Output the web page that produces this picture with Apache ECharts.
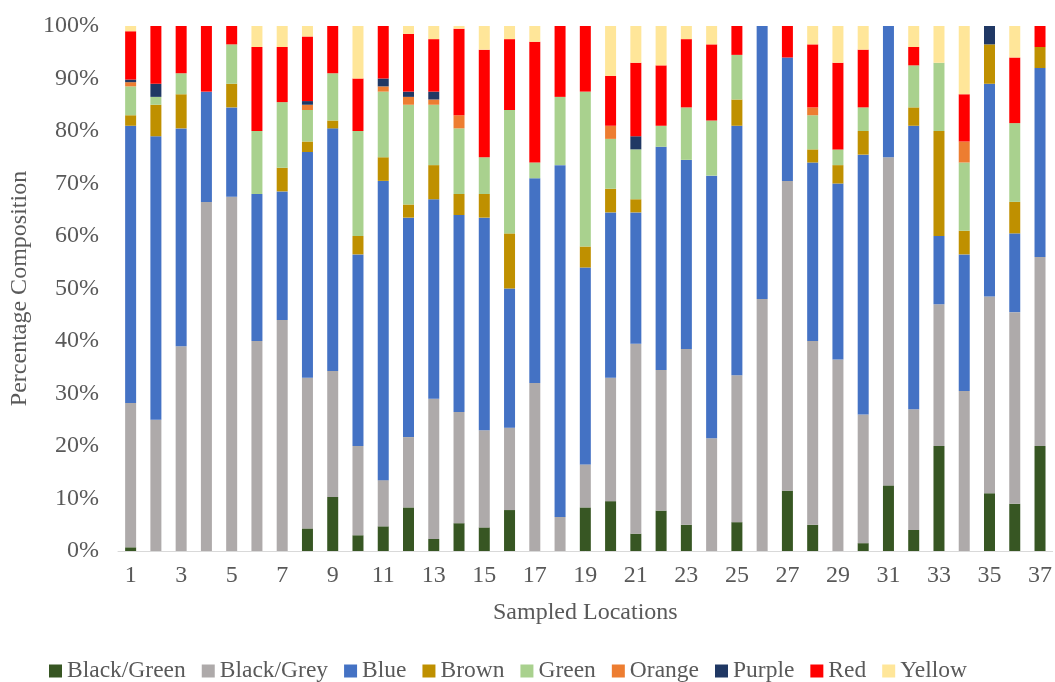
<!DOCTYPE html>
<html>
<head>
<meta charset="utf-8">
<script src="https://cdn.jsdelivr.net/npm/echarts@6/dist/echarts.min.js"></script>
<style>html,body{margin:0;padding:0;background:#fff}#c{width:1055px;height:682px}</style>
</head>
<body>
<div id="c"></div>
<script>
const categories = Array.from({length: 37}, (_, i) => String(i + 1));
const blackGreen = [0.7,0,0,0,0,0,0,4.3,10.3,3,4.7,8.3,2.3,5.3,4.5,7.8,0,0,8.3,9.5,3.3,7.7,5,0,5.5,0,11.5,5,0,1.5,12.5,4,20,0,11,9,20];
const blackGrey = [27.5,25,39,66.5,67.5,40,44,28.7,24,17,8.8,13.4,26.7,21.2,18.5,15.7,32,6.5,8.2,23.5,36.2,26.8,33.5,21.5,28,48,59,35,36.5,24.5,62.5,23,27,30.5,37.5,36.5,36];
const blue = [52.8,54,41.5,21,17,28,24.5,43,46.2,36.5,57,41.8,38,37.5,40.5,26.5,39,67,37.5,31.5,25,42.5,36,50,47.5,52,23.5,34,33.5,49.5,25,54,13,26,40.5,15,36];
const brown = [2,6,6.5,0,4.5,0,4.5,2,1.5,3.5,4.5,2.5,6.5,4,4.5,10.5,0,0,4,4.5,2.5,0,0,0,5,0,0,2.5,3.5,4.5,0,3.5,20,4.5,7.5,6,4];
const green = [5.5,1.5,4,0,7.5,12,12.5,6,9,20,12.5,19,11.5,12.5,7,23.5,3,13,29.5,9.5,9.5,4,10,10.5,8.5,0,0,6.5,3,4.5,0,8,13,13,0,15,0];
const orange = [0.8,0,0,0,0,0,0,1,0,0,1,1.5,1,2.5,0,0,0,0,0,2.5,0,0,0,0,0,0,0,1.5,0,0,0,0,0,4,0,0,0];
const purple = [0.5,2.5,0,0,0,0,0,0.7,0,0,1.5,1,1.5,0,0,0,0,0,0,0,2.5,0,0,0,0,0,0,0,0,0,0,0,0,0,3.5,0,0];
const red = [9.2,11,9,12.5,3.5,16,10.5,12.3,9,10,10,11,10,16.5,20.5,13.5,23,13.5,12.5,9.5,14,11.5,13,14.5,5.5,0,6,12,16.5,11,0,3.5,0,9,0,12.5,4];
const yellow = [1,0,0,0,0,4,4,2,0,10,0,1.5,2.5,0.5,4.5,2.5,3,0,0,9.5,7,7.5,2.5,3.5,0,0,0,3.5,7,4.5,0,4,7,13,0,6,0];
const yTicks = [0,10,20,30,40,50,60,70,80,90,100];

const seriesDefs = [
  ['Black/Green', blackGreen, '#375623'],
  ['Black/Grey', blackGrey, '#AEAAAA'],
  ['Blue', blue, '#4472C4'],
  ['Brown', brown, '#BF9000'],
  ['Green', green, '#A9D18E'],
  ['Orange', orange, '#ED7D31'],
  ['Purple', purple, '#203864'],
  ['Red', red, '#FF0000'],
  ['Yellow', yellow, '#FFE699']
];
const FONT = "'Liberation Serif', 'Times New Roman', serif";
const chart = echarts.init(document.getElementById('c'), null, {renderer: 'canvas'});
chart.setOption({
  animation: false,
  backgroundColor: '#fff',
  textStyle: {fontFamily: FONT},
  grid: {left: 118, right: 1, top: 26, bottom: 131, containLabel: false},
  legend: {
    top: 654, left: 44,
    itemWidth: 13, itemHeight: 13, itemGap: 16,
    icon: 'rect',
    textStyle: {fontFamily: FONT, fontSize: 23.5, color: '#595959'},
    data: seriesDefs.map(s => s[0])
  },
  xAxis: {
    type: 'category',
    data: categories,
    name: 'Sampled Locations',
    nameLocation: 'middle',
    nameGap: 50,
    nameTextStyle: {fontFamily: FONT, fontSize: 24, color: '#595959'},
    axisLine: {show: true, lineStyle: {color: '#D9D9D9', width: 1}},
    axisTick: {show: false},
    axisLabel: {interval: 1, fontFamily: FONT, fontSize: 24, color: '#595959', margin: 13}
  },
  yAxis: {
    type: 'value',
    min: 0, max: 100, interval: 10,
    name: 'Percentage Composition',
    nameLocation: 'middle',
    nameGap: 86,
    nameTextStyle: {fontFamily: FONT, fontSize: 24, color: '#595959'},
    axisLine: {show: false},
    axisTick: {show: false},
    splitLine: {show: false},
    axisLabel: {
      fontFamily: FONT, fontSize: 24, color: '#595959', margin: 19,
      formatter: v => (yTicks.indexOf(v) >= 0 ? v + '%' : '')
    }
  },
  series: seriesDefs.map(([name, data, color]) => ({
    name, type: 'bar', stack: 'total', data,
    barWidth: 11,
    itemStyle: {color},
    emphasis: {disabled: true}
  }))
});
</script>
</body>
</html>
